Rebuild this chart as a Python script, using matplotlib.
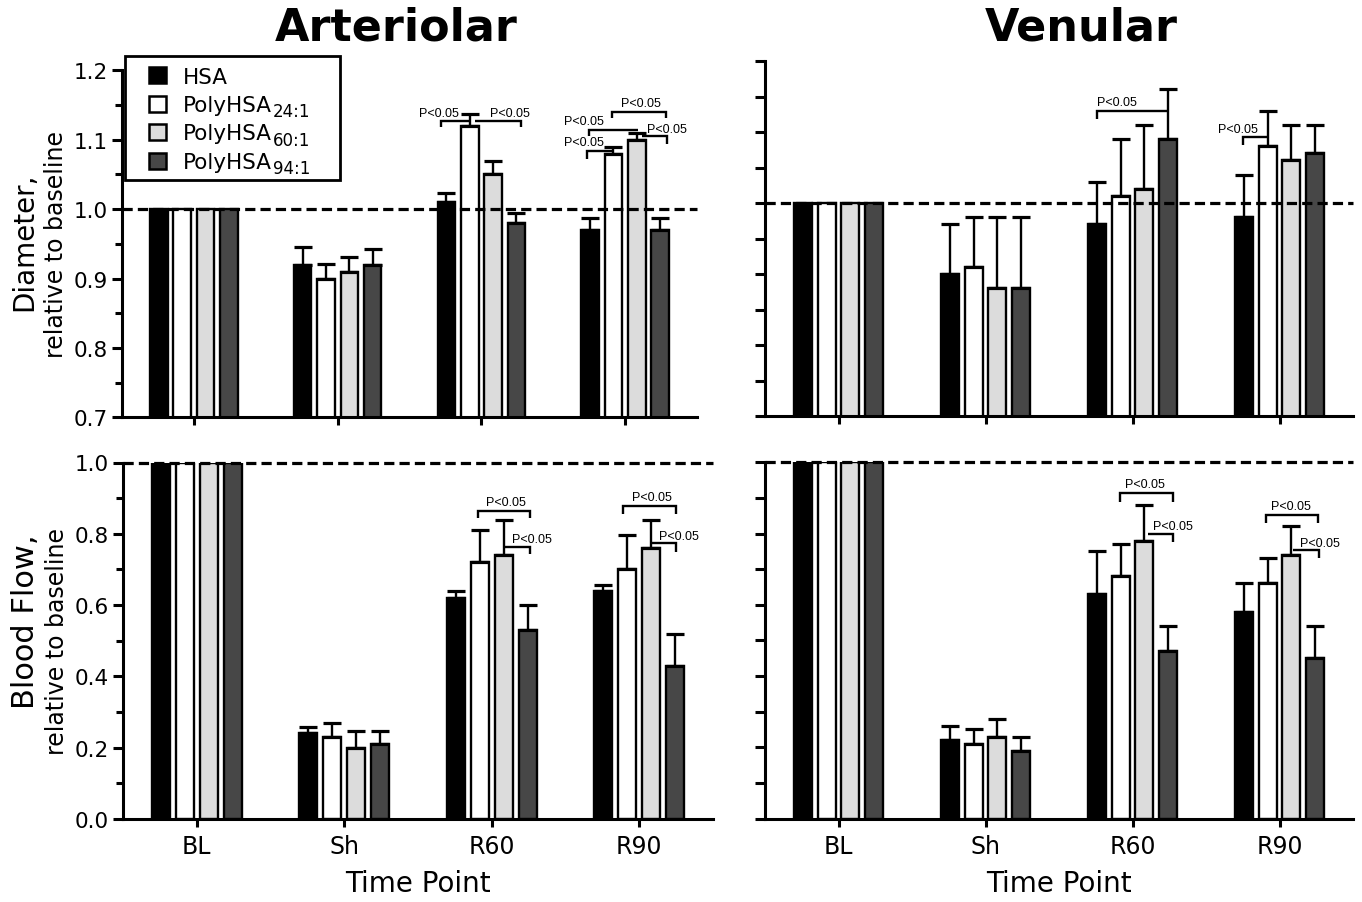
import matplotlib
matplotlib.use("Agg")
import matplotlib.pyplot as plt
import numpy as np
from matplotlib.patches import Rectangle
from matplotlib import font_manager

# ---------------- data ----------------
time_points = ["BL", "Sh", "R60", "R90"]
group_names = ["HSA", "PolyHSA", "PolyHSA", "PolyHSA"]
group_subs = ["", "24:1", "60:1", "94:1"]
group_colors = ["#000000", "#ffffff", "#dcdcdc", "#474747"]

# Arteriolar diameter (rows: HSA, 24:1, 60:1, 94:1)
art_diam_mean = [
    [1.00, 0.92, 1.01, 0.97],
    [1.00, 0.90, 1.12, 1.08],
    [1.00, 0.91, 1.05, 1.10],
    [1.00, 0.92, 0.98, 0.97],
]
art_diam_err = [
    [0.0, 0.025, 0.013, 0.017],
    [0.0, 0.021, 0.017, 0.009],
    [0.0, 0.021, 0.019, 0.010],
    [0.0, 0.022, 0.014, 0.017],
]
# Venular diameter
ven_diam_mean = [
    [1.00, 0.90, 0.97, 0.98],
    [1.00, 0.91, 1.01, 1.08],
    [1.00, 0.88, 1.02, 1.06],
    [1.00, 0.88, 1.09, 1.07],
]
ven_diam_err = [
    [0.0, 0.07, 0.06, 0.06],
    [0.0, 0.07, 0.08, 0.05],
    [0.0, 0.10, 0.09, 0.05],
    [0.0, 0.10, 0.07, 0.04],
]
# Arteriolar blood flow
art_flow_mean = [
    [1.00, 0.24, 0.62, 0.64],
    [1.00, 0.23, 0.72, 0.70],
    [1.00, 0.20, 0.74, 0.76],
    [1.00, 0.21, 0.53, 0.43],
]
art_flow_err = [
    [0.0, 0.017, 0.020, 0.016],
    [0.0, 0.038, 0.090, 0.098],
    [0.0, 0.047, 0.099, 0.079],
    [0.0, 0.037, 0.069, 0.089],
]
# Venular blood flow
ven_flow_mean = [
    [1.00, 0.22, 0.63, 0.58],
    [1.00, 0.21, 0.68, 0.66],
    [1.00, 0.23, 0.78, 0.74],
    [1.00, 0.19, 0.47, 0.45],
]
ven_flow_err = [
    [0.0, 0.04, 0.12, 0.08],
    [0.0, 0.04, 0.09, 0.07],
    [0.0, 0.05, 0.10, 0.08],
    [0.0, 0.04, 0.07, 0.09],
]
sig_label = "P<0.05"

# ---------------- style ----------------
names = {f.name for f in font_manager.fontManager.ttflist}
pfont = "Liberation Sans Narrow" if "Liberation Sans Narrow" in names else "Liberation Sans"
psize = 10.5 if pfont == "Liberation Sans Narrow" else 9

plt.rcParams["font.family"] = ["DejaVu Sans"]

W, H = 1362, 903
fig = plt.figure(figsize=(W / 100, H / 100), dpi=100)


def fx(px):
    return px / W


def fy(py):
    return 1 - py / H


def fax(x0, x1, ytop, ybot):
    return fig.add_axes([x0 / W, 1 - ybot / H, (x1 - x0) / W, (ybot - ytop) / H])


ax_tl = fax(122, 697, 71.3, 418.3)
ax_tr = fax(765, 1353, 62, 417)
ax_bl = fax(123, 713, 463.5, 820)
ax_br = fax(765, 1353, 463.3, 819.5)

pitch = 0.162
bar_w = 0.122
offsets = (np.arange(4) - 1.5) * pitch
SP_LW = 2.2


def draw_panel(ax, means, errs, ylim, major, minor, show_labels, fmt):
    x = np.arange(len(time_points))
    for i in range(4):
        xi = x + offsets[i]
        m = np.array(means[i], dtype=float)
        e = np.array(errs[i], dtype=float)
        ax.bar(xi, m, width=bar_w, color=group_colors[i], edgecolor="black",
               linewidth=1.7, zorder=2)
        k = e > 0
        ax.errorbar(xi[k], m[k], yerr=[np.zeros(k.sum()), e[k]], fmt="none",
                    ecolor="black", elinewidth=1.7, capsize=6.8, capthick=2.3,
                    zorder=3)
    ax.set_xlim(-0.5, 3.5)
    ax.set_ylim(*ylim)
    ax.axhline(1.0, color="black", lw=2.3, linestyle=(0, (3.2, 1.6)),
               clip_on=False, zorder=4)
    for s in ["top", "right"]:
        ax.spines[s].set_visible(False)
    for s in ["left", "bottom"]:
        ax.spines[s].set_linewidth(SP_LW)
    ax.set_xticks(x)
    ax.set_yticks(major)
    if minor is not None:
        ax.set_yticks(minor, minor=True)
    ax.tick_params(axis="y", which="major", direction="out", length=7, width=SP_LW,
                   labelsize=15.5, pad=3)
    ax.tick_params(axis="y", which="minor", direction="out", length=5, width=SP_LW)
    ax.tick_params(axis="x", direction="out", length=6, width=SP_LW, labelsize=17, pad=5)
    ax.tick_params(axis="x", which="minor", bottom=False)
    if show_labels:
        ax.set_yticklabels([fmt.format(v) for v in major])
    else:
        ax.set_yticklabels([])
    ax.set_facecolor("none")


draw_panel(ax_tl, art_diam_mean, art_diam_err, (0.7, 1.2),
           np.arange(0.7, 1.201, 0.1), np.arange(0.75, 1.2, 0.1), True, "{:.1f}")
draw_panel(ax_tr, ven_diam_mean, ven_diam_err, (0.7, 1.2),
           np.arange(0.7, 1.201, 0.05), None, False, "{:.2f}")
draw_panel(ax_bl, art_flow_mean, art_flow_err, (0.0, 1.0),
           np.arange(0.0, 1.001, 0.2), np.arange(0.1, 1.0, 0.2), True, "{:.1f}")
draw_panel(ax_br, ven_flow_mean, ven_flow_err, (0.0, 1.0),
           np.arange(0.0, 1.001, 0.1), None, False, "{:.1f}")

for ax in (ax_tl, ax_tr):
    ax.set_xticklabels([])
for ax in (ax_bl, ax_br):
    ax.set_xticklabels(time_points)
    ax.set_xlabel("Time Point", fontsize=20, labelpad=8)


# --------------- significance brackets ---------------
def bracket(ax, g, x1, x2, y, yl, yr, tx, ty):
    xs, ys = [], []
    if yl is not None:
        xs.append(g + x1); ys.append(yl)
    xs += [g + x1, g + x2]; ys += [y, y]
    if yr is not None:
        xs.append(g + x2); ys.append(yr)
    ax.plot(xs, ys, color="black", lw=1.7, solid_capstyle="butt",
            solid_joinstyle="miter", zorder=5, clip_on=False)
    ax.text(g + tx, ty, sig_label, ha="center", va="center",
            fontsize=psize, family=[pfont, "DejaVu Sans"], zorder=6)


# top-left (arteriolar diameter)
bracket(ax_tl, 2, -0.283, -0.079, 1.1274, 1.1179, None, -0.297, 1.1385)
bracket(ax_tl, 2, -0.045, 0.273, 1.1274, None, 1.1179, 0.196, 1.1385)
bracket(ax_tl, 3, -0.089, 0.285, 1.1404, 1.1308, 1.1308, 0.111, 1.153)
bracket(ax_tl, 3, -0.250, 0.092, 1.1144, 1.1058, None, -0.286, 1.1274)
bracket(ax_tl, 3, -0.265, -0.082, 1.0842, 1.0722, None, -0.286, 1.0963)
bracket(ax_tl, 3, 0.116, 0.290, 1.1049, None, 1.0938, 0.290, 1.1153)
# top-right (venular diameter)
bracket(ax_tr, 2, -0.240, 0.240, 1.130, 1.118, None, -0.103, 1.142)
bracket(ax_tr, 3, -0.250, -0.081, 1.0925, 1.0817, None, -0.282, 1.104)
# bottom-left (arteriolar flow)
bracket(ax_bl, 2, -0.095, 0.262, 0.865, 0.844, 0.844, 0.097, 0.889)
bracket(ax_bl, 2, 0.084, 0.262, 0.764, None, 0.743, 0.270, 0.785)
bracket(ax_bl, 3, -0.110, 0.251, 0.879, 0.856, 0.856, 0.088, 0.903)
bracket(ax_bl, 3, 0.081, 0.251, 0.773, None, 0.750, 0.268, 0.794)
# bottom-right (venular flow)
bracket(ax_br, 2, -0.083, 0.275, 0.914, 0.889, 0.889, 0.084, 0.939)
bracket(ax_br, 2, 0.104, 0.275, 0.800, None, 0.777, 0.277, 0.821)
bracket(ax_br, 3, -0.090, 0.265, 0.852, 0.830, 0.830, 0.078, 0.877)
bracket(ax_br, 3, 0.095, 0.270, 0.755, None, 0.731, 0.278, 0.773)

# --------------- titles & labels ---------------
fig.text(fx(396), fy(28), "Arteriolar", ha="center", va="center",
         fontsize=32, fontweight="bold")
fig.text(fx(1081), fy(28), "Venular", ha="center", va="center",
         fontsize=32, fontweight="bold")

fig.text(fx(24), fy(242), "Diameter,", rotation=90, ha="center", va="center",
         fontsize=20)
fig.text(fx(56), fy(244), "relative to baseline", rotation=90, ha="center",
         va="center", fontsize=17)
fig.text(fx(26), fy(622), "Blood Flow,", rotation=90, ha="center", va="center",
         fontsize=22)
fig.text(fx(57), fy(642), "relative to baseline", rotation=90, ha="center",
         va="center", fontsize=17)

# --------------- legend (drawn as a boxed key) ---------------
fig.add_artist(Rectangle((fx(125), fy(181)), (340 - 125) / W, (181 - 57) / H,
                         transform=fig.transFigure, facecolor="white",
                         edgecolor="black", linewidth=2.0, zorder=10))
row_y = [76, 104.5, 133, 161.5]
renderer = fig.canvas.get_renderer()
for i in range(4):
    yc = row_y[i]
    fig.add_artist(Rectangle((fx(149), fy(yc + 8)), 17 / W, 16 / H,
                             transform=fig.transFigure, facecolor=group_colors[i],
                             edgecolor="black", linewidth=1.8, zorder=11))
    t = fig.text(fx(183), fy(yc + 7.5), group_names[i], ha="left", va="baseline",
                 fontsize=15.5, zorder=12)
    if group_subs[i]:
        bb = t.get_window_extent(renderer=renderer)
        fig.text(bb.x1 / W + 1 / W, fy(yc + 12.5), group_subs[i], ha="left",
                 va="baseline", fontsize=12, zorder=12)

fig.savefig("out.png", dpi=100, facecolor="white")
